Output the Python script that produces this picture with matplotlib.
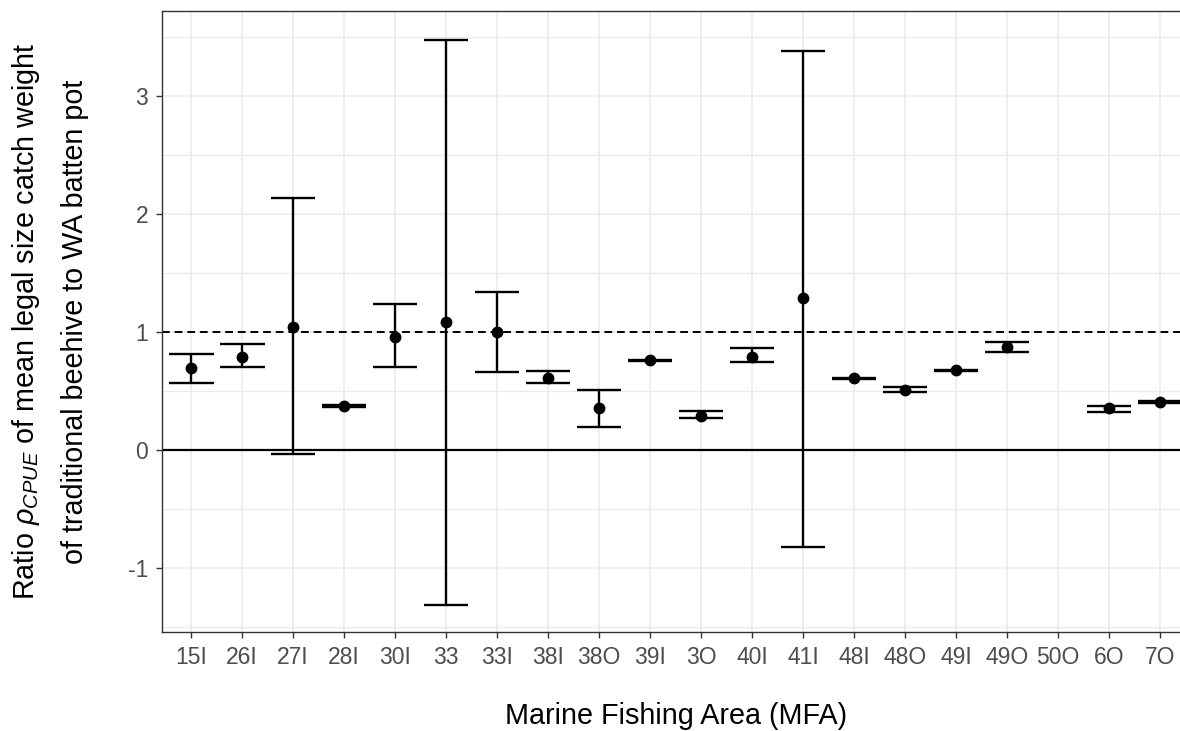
import matplotlib
matplotlib.use("Agg")
import matplotlib.pyplot as plt
import numpy as np

# Ratio estimates with lower / upper bounds per marine fishing area
areas = ["15I", "26I", "27I", "28I", "30I", "33", "33I", "38I", "38O", "39I",
         "3O", "40I", "41I", "48I", "48O", "49I", "49O", "50O", "6O", "7O"]
ratio = [0.694, 0.79, 1.045, 0.37, 0.96, 1.085, 0.997, 0.61, 0.359, 0.761,
         0.291, 0.79, 1.287, 0.609, 0.505, 0.677, 0.873, np.nan, 0.356, 0.407]
lower = [0.564, 0.70, -0.03, 0.362, 0.70, -1.31, 0.665, 0.564, 0.192, 0.757,
         0.268, 0.744, -0.82, 0.605, 0.488, 0.673, 0.834, np.nan, 0.325, 0.398]
upper = [0.817, 0.90, 2.13, 0.378, 1.24, 3.47, 1.34, 0.668, 0.508, 0.765,
         0.331, 0.868, 3.38, 0.613, 0.530, 0.681, 0.913, np.nan, 0.375, 0.414]

plt.rcParams["font.family"] = ["Liberation Sans", "DejaVu Sans"]
plt.rcParams["mathtext.fontset"] = "custom"
plt.rcParams["mathtext.rm"] = "Liberation Sans"
plt.rcParams["mathtext.it"] = "Liberation Sans:italic"
plt.rcParams["axes.unicode_minus"] = False

fig = plt.figure(figsize=(11.8, 7.31), dpi=100)
ax = fig.add_axes([162 / 1180, 99 / 731, 1028.6 / 1180, 621 / 731])

x = np.arange(len(areas))
lo = np.array(lower)
hi = np.array(upper)

ax.axhline(0, color="black", lw=1.6, zorder=2)
ax.axhline(1, color="black", lw=1.4, ls=(0, (4, 2.5)), zorder=2)

ax.vlines(x, lo, hi, color="black", lw=1.7, zorder=3)
ax.hlines(lo, x - 0.44, x + 0.44, color="black", lw=1.7, zorder=3)
ax.hlines(hi, x - 0.44, x + 0.44, color="black", lw=1.7, zorder=3)
ax.plot(x, ratio, "o", color="black", ms=7.5, zorder=4)

ax.set_xlim(-0.57, len(areas) - 1 + 0.6)
ax.set_ylim(-1.54, 3.717)
ax.set_xticks(x)
ax.set_xticklabels(areas)
ax.set_yticks([-1, 0, 1, 2, 3])
ax.set_yticks([-1.5, -0.5, 0.5, 1.5, 2.5, 3.5], minor=True)
ax.grid(True, which="major", color="#EBEBEB", lw=1.2)
ax.grid(True, which="minor", axis="y", color="#EBEBEB", lw=0.9)
ax.set_axisbelow(True)

for s in ax.spines.values():
    s.set_color("#333333")
    s.set_linewidth(1.0)

ax.tick_params(axis="both", which="major", length=4, width=1.0, color="#333333",
               labelcolor="#4D4D4D", labelsize=16.5, pad=6)
ax.tick_params(axis="y", which="minor", length=0)

ax.set_xlabel("Marine Fishing Area (MFA)", fontsize=20.7, labelpad=24)
ax.set_ylabel("Ratio $\\rho_{CPUE}$ of mean legal size catch weight\n"
              "of traditional beehive to WA batten pot",
              fontsize=20.7, labelpad=28, linespacing=1.85)

fig.savefig("out.png", dpi=100)
